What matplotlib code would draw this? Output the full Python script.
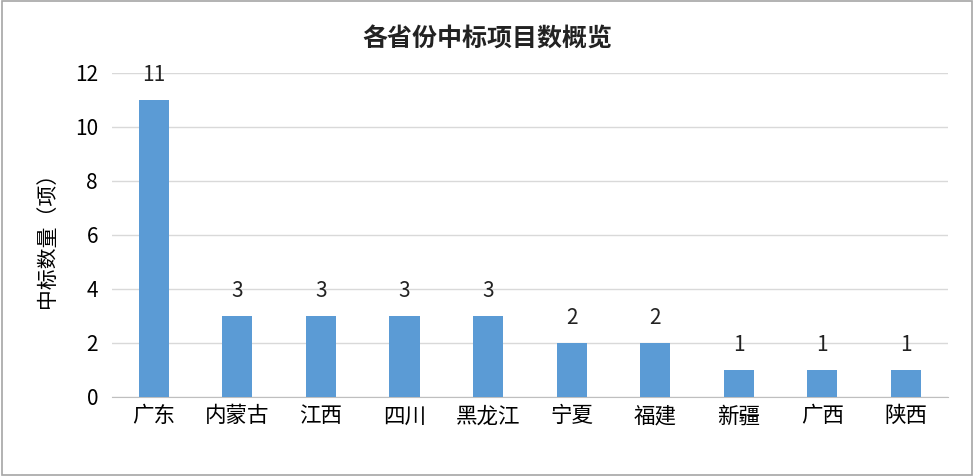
import matplotlib
matplotlib.use("Agg")
import matplotlib.pyplot as plt
from matplotlib.patches import Rectangle

plt.rcParams['font.family'] = ['Noto Sans CJK SC', 'DejaVu Sans']

provinces = ["广东", "内蒙古", "江西", "四川", "黑龙江", "宁夏", "福建", "新疆", "广西", "陕西"]
counts = [11, 3, 3, 3, 3, 2, 2, 1, 1, 1]
yticks = [0, 2, 4, 6, 8, 10, 12]

fig = plt.figure(figsize=(9.74, 4.76), dpi=100)
ax = fig.add_axes([0.115, 0.166, 0.858, 0.681])
x = range(len(provinces))
bars = ax.bar(x, counts, width=0.36, color="#5B9BD5", zorder=3)
for xi, v in zip(x, counts):
    ax.text(xi, v + 0.5, str(v), ha="center", va="bottom", fontsize=15, color="#222222")
ax.set_ylim(0, 12)
ax.set_xlim(-0.5, len(provinces) - 0.5)
ax.set_yticks(yticks)
ax.set_xticks(list(x))
ax.set_xticklabels(provinces, fontsize=15.5)
ax.tick_params(axis="y", labelsize=15, length=0, pad=10)
ax.tick_params(axis="x", length=0, pad=6)
ax.grid(axis="y", color="#D9D9D9", linewidth=1, zorder=0)
for s in ["top", "right", "left"]:
    ax.spines[s].set_visible(False)
ax.spines["bottom"].set_color("#BFBFBF")
ax.set_ylabel("中标数量（项）", fontsize=15, labelpad=12)
fig.text(0.5, 0.917, "各省份中标项目数概览", ha="center", va="center", fontsize=18, fontweight="bold", color="#222222")
fig.patches.append(Rectangle((0.002, 0.003), 0.996, 0.994, transform=fig.transFigure, fill=False, edgecolor="#A6A6A6", linewidth=1.2))
fig.savefig("out.png", dpi=100)
